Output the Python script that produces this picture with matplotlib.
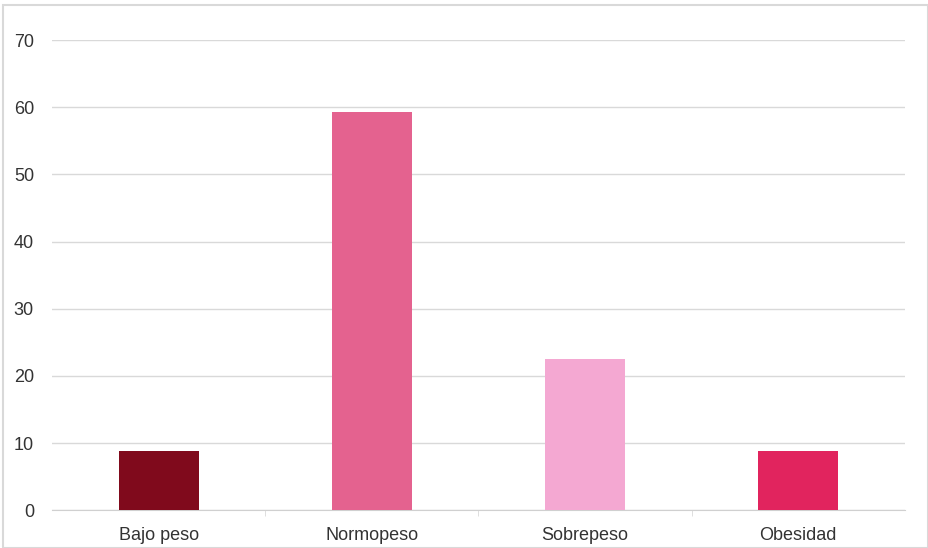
import matplotlib
matplotlib.use("Agg")
import matplotlib.pyplot as plt
from matplotlib.patches import Rectangle

# Datos
categorias = ["Bajo peso", "Normopeso", "Sobrepeso", "Obesidad"]
valores = [8.8, 59.3, 22.5, 8.8]
colores = ["#800a1c", "#e4628f", "#f4a8d2", "#e1245e"]
y_ticks = [0, 10, 20, 30, 40, 50, 60, 70]

plt.rcParams['font.family'] = ['Liberation Sans', 'DejaVu Sans']

fig = plt.figure(figsize=(9.29, 5.48), dpi=100)
ax = fig.add_axes([0.056, 0.069, 0.918, 0.858])

x = range(len(categorias))
ax.bar(x, valores, width=0.375, color=colores, zorder=3)

ax.set_xlim(-0.5, len(categorias) - 0.5)
ax.set_ylim(0, 70)
ax.set_yticks(y_ticks)
ax.set_xticks(list(x))
ax.set_xticklabels(categorias, fontsize=13, color="#333333")
ax.tick_params(axis="y", length=0, labelsize=13, labelcolor="#333333", pad=13)
ax.tick_params(axis="x", length=0, pad=12)

# pequenas marcas entre categorias
ax.set_xticks([0.5, 1.5, 2.5], minor=True)
ax.tick_params(axis="x", which="minor", length=4, color="#d9d9d9")

ax.grid(axis="y", color="#d9d9d9", linewidth=1, zorder=0)
for s in ["top", "right", "left"]:
    ax.spines[s].set_visible(False)
ax.spines["bottom"].set_color("#d0d0d0")

# borde exterior del grafico
fig.patches.append(Rectangle((0.003, 0.0), 0.996, 0.99, transform=fig.transFigure,
                             fill=False, edgecolor="#d9d9d9", linewidth=1.5))

fig.savefig("out.png", dpi=100)
